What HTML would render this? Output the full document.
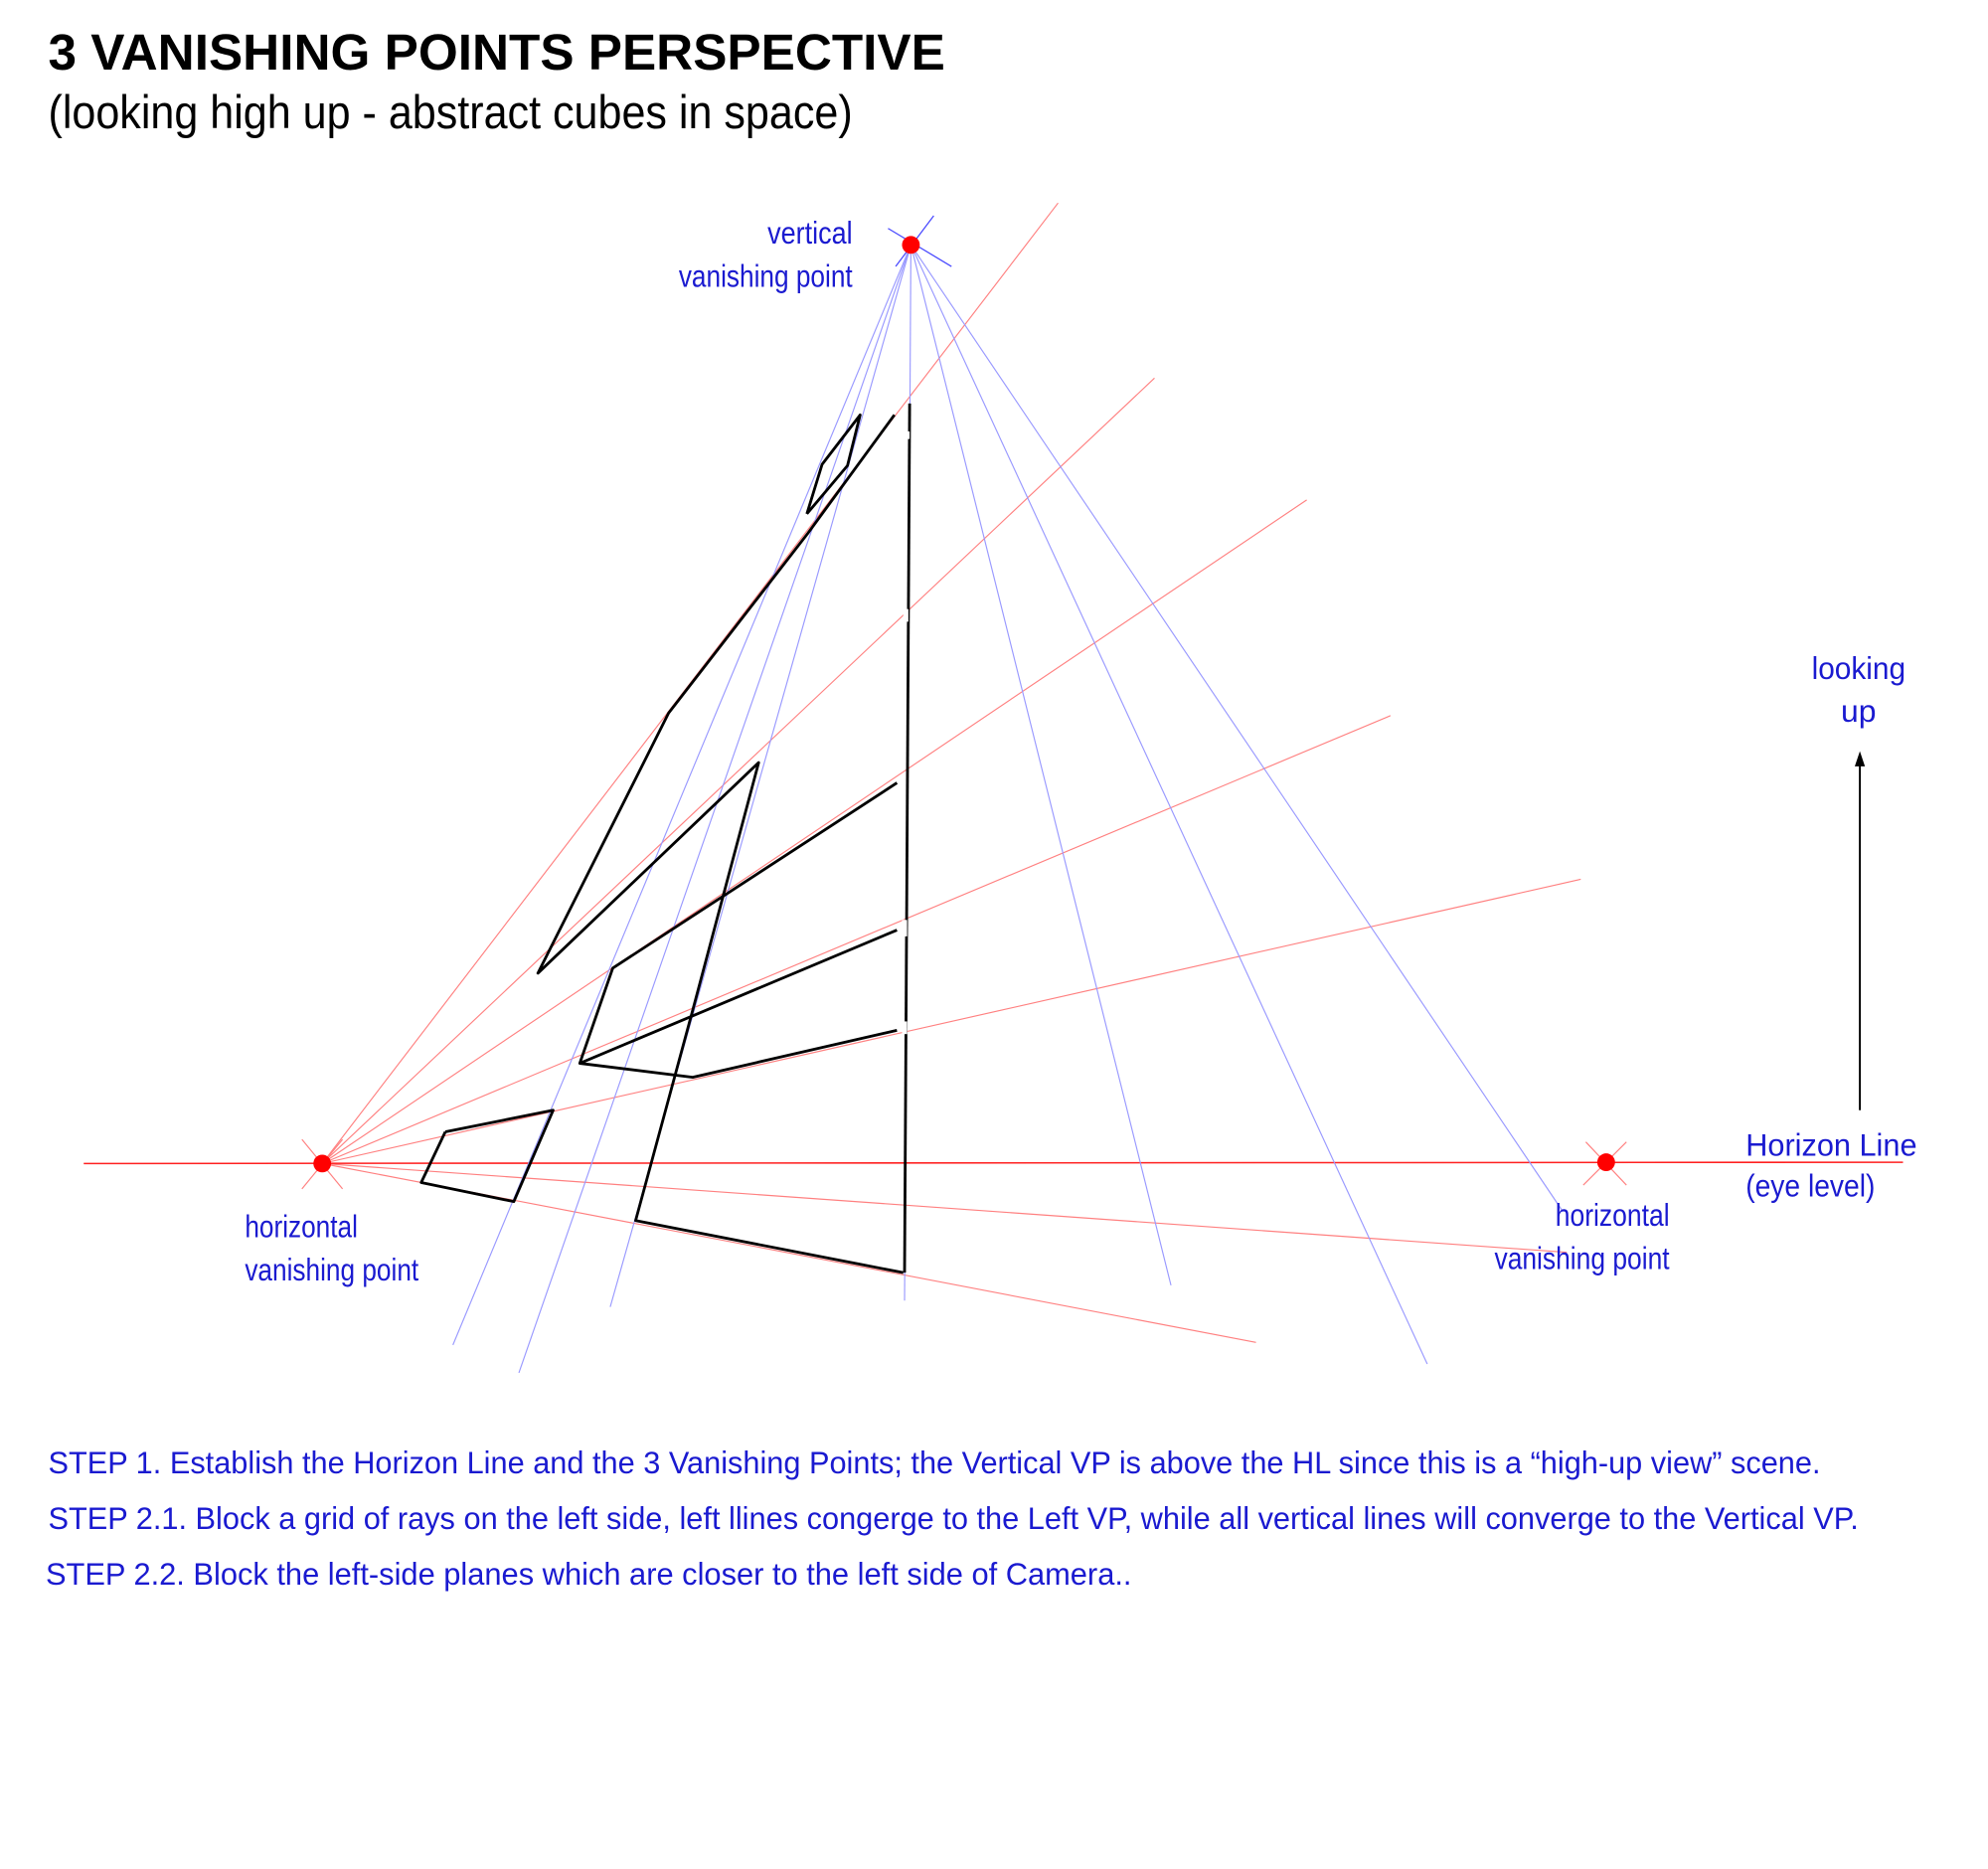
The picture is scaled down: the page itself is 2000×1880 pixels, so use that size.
<!DOCTYPE html>
<html><head><meta charset="utf-8"><style>
html,body{margin:0;padding:0;background:#fff;}
svg{display:block;}
text{font-family:"Liberation Sans Narrow","Liberation Sans",sans-serif;}
.b{fill:#1a1ad0;}
</style></head><body>
<svg width="2000" height="1880" viewBox="0 0 1567 1473" preserveAspectRatio="none" xmlns="http://www.w3.org/2000/svg">
<rect width="1567" height="1473" fill="#fff"/>
<text x="38" y="55" font-size="40" font-weight="bold" textLength="707" lengthAdjust="spacingAndGlyphs">3 VANISHING POINTS PERSPECTIVE</text>
<text x="38" y="101" font-size="37" textLength="634" lengthAdjust="spacingAndGlyphs">(looking high up - abstract cubes in space)</text>

<g stroke="#ff8080" stroke-width="0.9" fill="none">
<line x1="254" y1="917" x2="834" y2="160"/>
<line x1="254" y1="917" x2="910" y2="298"/>
<line x1="254" y1="917" x2="1030" y2="394"/>
<line x1="254" y1="917" x2="1096" y2="564"/>
<line x1="254" y1="917" x2="1246" y2="693"/>
<line x1="254" y1="917" x2="1235" y2="987"/>
<line x1="254" y1="917" x2="990" y2="1058"/>
<line x1="238" y1="898" x2="270" y2="937"/>
<line x1="270" y1="898" x2="238" y2="937"/>
<line x1="1250" y1="900" x2="1282" y2="934"/>
<line x1="1282" y1="900" x2="1248" y2="934"/>
</g>
<line x1="66" y1="917" x2="1500" y2="916" stroke="#ff2020" stroke-width="1.2"/>

<g stroke="#9999ff" stroke-width="0.9" fill="none">
<line x1="718" y1="193" x2="357" y2="1060"/>
<line x1="718" y1="193" x2="409" y2="1082"/>
<line x1="718" y1="193" x2="481" y2="1030"/>
<line x1="718" y1="193" x2="713" y2="1025"/>
<line x1="718" y1="193" x2="923" y2="1013"/>
<line x1="718" y1="193" x2="1125" y2="1075"/>
<line x1="718" y1="193" x2="1232" y2="955"/>
</g>
<g stroke="#4a4aff" stroke-width="1" fill="none">
<line x1="700" y1="180" x2="750" y2="210"/>
<line x1="736" y1="170" x2="706" y2="210"/>
</g>

<g stroke="#000" stroke-width="2.2" fill="none" stroke-linejoin="round">
<polyline points="636,405 648,366 678,327 668,367 636,405"/>
<line x1="717" y1="318" x2="713" y2="1003"/>
<polyline points="705,327 637,420 527,562 424,767 598,601 545,800 501,962 712,1003"/>
<polyline points="707,617 483,763 457,838 707,733"/>
<polyline points="457,838 546,849 707,812"/>
<polyline points="351,892 436,875 405,947 332,932 351,892"/>
</g>
<g stroke="#fff" stroke-width="4">
<line x1="715" y1="340" x2="715" y2="346"/>
<line x1="714" y1="480" x2="714" y2="490"/>
<line x1="713" y1="725" x2="713" y2="738"/>
<line x1="713" y1="805" x2="713" y2="815"/>
</g>

<circle cx="718" cy="193" r="7" fill="#ff0000"/>
<circle cx="254" cy="917" r="7" fill="#ff0000"/>
<circle cx="1266" cy="916" r="7" fill="#ff0000"/>

<line x1="1466" y1="875" x2="1466" y2="600" stroke="#000" stroke-width="1.5"/>
<polygon points="1466,592 1462,604 1470,604" fill="#000"/>

<g class="b" font-size="25">
<text x="672" y="192" text-anchor="end" textLength="67" lengthAdjust="spacingAndGlyphs">vertical</text>
<text x="535" y="226" textLength="137" lengthAdjust="spacingAndGlyphs">vanishing point</text>
<text x="193" y="975" textLength="89" lengthAdjust="spacingAndGlyphs">horizontal</text>
<text x="193" y="1009" textLength="137" lengthAdjust="spacingAndGlyphs">vanishing point</text>
<text x="1226" y="966" textLength="90" lengthAdjust="spacingAndGlyphs">horizontal</text>
<text x="1178" y="1000" textLength="138" lengthAdjust="spacingAndGlyphs">vanishing point</text>
<text x="1376" y="911" textLength="135" lengthAdjust="spacingAndGlyphs">Horizon Line</text>
<text x="1376" y="943" textLength="102" lengthAdjust="spacingAndGlyphs">(eye level)</text>
<text x="1428" y="535" textLength="74" lengthAdjust="spacingAndGlyphs">looking</text>
<text x="1465" y="569" text-anchor="middle">up</text>
<text x="38" y="1161" textLength="1397" lengthAdjust="spacingAndGlyphs">STEP 1. Establish the Horizon Line and the 3 Vanishing Points; the Vertical VP is above the HL since this is a “high-up view” scene.</text>
<text x="38" y="1205" textLength="1427" lengthAdjust="spacingAndGlyphs">STEP 2.1. Block a grid of rays on the left side, left llines congerge to the Left VP,  while all vertical lines will converge to the Vertical VP.</text>
<text x="36" y="1249" textLength="856" lengthAdjust="spacingAndGlyphs">STEP 2.2. Block the left-side planes which are closer to the left side of Camera..</text>
</g>
</svg>
</body></html>
